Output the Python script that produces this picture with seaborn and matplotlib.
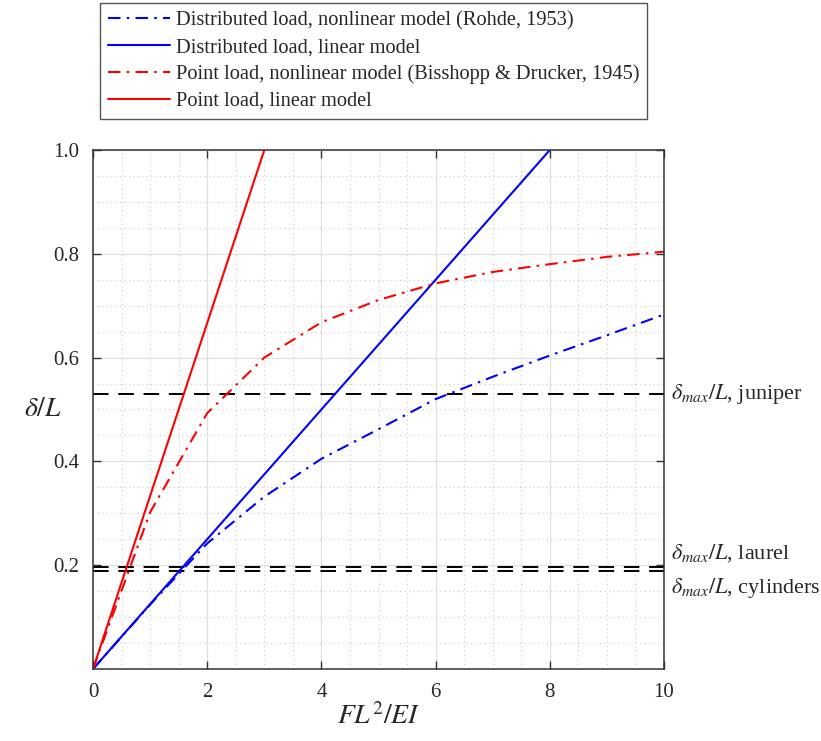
# Deflection of a cantilever: nonlinear vs linear models
import matplotlib
matplotlib.use("Agg")
import matplotlib.pyplot as plt
import seaborn as sns
from matplotlib.ticker import MultipleLocator, FormatStrFormatter

# -----------------------------
# Data
# -----------------------------
load = [0, 1, 2, 3, 4, 5, 6, 7, 8, 9, 10]
rohde = [0, 0.124, 0.242, 0.332, 0.405, 0.462, 0.520, 0.563, 0.604, 0.643, 0.683]
bisshopp = [0, 0.302, 0.493, 0.600, 0.668, 0.711, 0.743, 0.765, 0.780, 0.794, 0.804]

dist_lin_x = [0, 8]
dist_lin_y = [0, 1]
point_lin_x = [0, 3]
point_lin_y = [0, 1]

limit_names = ["juniper", "laurel", "cylinders"]
limit_values = [0.530, 0.197, 0.188]

sns.set_style("ticks")
plt.rcParams["font.family"] = ["Liberation Serif", "DejaVu Serif"]
plt.rcParams["mathtext.fontset"] = "stix"

fig = plt.figure(figsize=(8.21, 7.41), dpi=100)
ax = fig.add_axes([0.1133, 0.0972, 0.6955, 0.7004])

dashdot = (0, (6, 3, 1.2, 3))
sns.lineplot(x=load, y=rohde, color="#0000ff", lw=1.5, linestyle=dashdot,
             label="Distributed load, nonlinear model (Rohde, 1953)", ax=ax)
sns.lineplot(x=dist_lin_x, y=dist_lin_y, color="#0000ff", lw=1.5,
             label="Distributed load, linear model", ax=ax)
sns.lineplot(x=load, y=bisshopp, color="#ff0000", lw=1.5, linestyle=dashdot,
             label="Point load, nonlinear model (Bisshopp & Drucker, 1945)", ax=ax)
sns.lineplot(x=point_lin_x, y=point_lin_y, color="#ff0000", lw=1.5,
             label="Point load, linear model", ax=ax)

# max deflection limits
for name, val in zip(limit_names, limit_values):
    ax.axhline(val, color="black", lw=1.4, linestyle=(0, (8, 5)), zorder=1)

tr = ax.get_yaxis_transform()
ax.text(1.012, limit_values[0], r"$\delta_{max}/L$, juniper", transform=tr,
        ha="left", va="center", fontsize=16)
ax.text(1.012, limit_values[1] + 0.006, r"$\delta_{max}/L$, laurel", transform=tr,
        ha="left", va="bottom", fontsize=16)
ax.text(1.012, limit_values[2] - 0.008, r"$\delta_{max}/L$, cylinders", transform=tr,
        ha="left", va="top", fontsize=16)

ax.set_xlim(0, 10)
ax.set_ylim(0, 1)
ax.xaxis.set_major_locator(MultipleLocator(2))
ax.xaxis.set_minor_locator(MultipleLocator(0.5))
ax.yaxis.set_minor_locator(MultipleLocator(0.05))
ax.xaxis.set_major_formatter(FormatStrFormatter("%g"))
ax.yaxis.set_major_formatter(FormatStrFormatter("%.1f"))
ax.set_yticks([0.2, 0.4, 0.6, 0.8, 1.0])

ax.grid(which="major", color="#e0e0e0", lw=0.9, linestyle="-")
ax.grid(which="minor", color="#c8c8c8", lw=0.8, linestyle=(0, (1, 3)))
ax.set_axisbelow(True)

ax.tick_params(which="major", direction="in", length=6, width=1, top=True, right=True,
               labelsize=15, pad=10, color="#333333")
ax.tick_params(which="minor", length=0)
for s in ax.spines.values():
    s.set_color("#333333")
    s.set_linewidth(1.1)

ax.set_xlabel(r"$FL^2/EI$", fontsize=20, labelpad=1)
ax.set_ylabel(r"$\delta/L$", fontsize=20, rotation=0, labelpad=7, va="center")

# legend above the axes
handles, labels = ax.get_legend_handles_labels()
if ax.get_legend() is not None:
    ax.get_legend().remove()
leg = fig.legend(handles, labels, loc="upper left", bbox_to_anchor=(0.122, 0.996),
                 fontsize=14.7, frameon=True, fancybox=False, edgecolor="#555555",
                 framealpha=1, handlelength=3.0, handletextpad=0.3, labelspacing=0.36,
                 borderpad=0.4, borderaxespad=0)
leg.get_frame().set_linewidth(1.0)

fig.savefig("out.png", dpi=100)
